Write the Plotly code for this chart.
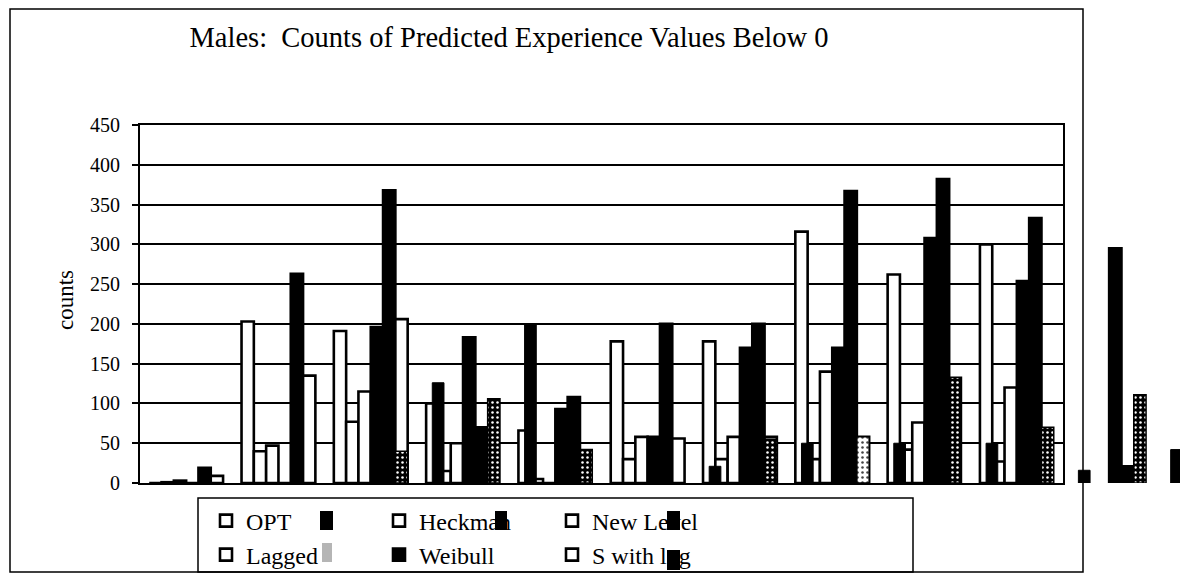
import plotly.graph_objects as go

W, H = 1188, 575
OFF = 8  # the page body margin shifts the figure by 8 px

# ---------------- data ----------------
categories = [str(i) for i in range(1, 13)]
series_names = ["OPT", "Heckman", "New Level", "Lagged", "Weibull", "S with log"]
opt = [0, 203, 191, 100, 66, 178, 178, 316, 262, 300, None, None]
heckman = [1, 40, 77, 15, 5, 30, 30, 30, 42, 27, None, None]
new_level = [3, 47, 115, 50, 0, 58, 58, 140, 76, 120, None, None]
lagged = [0, 0, 196, 183, 93, 58, 170, 170, 308, 254, 295, None]
weibull = [19, 263, 368, 70, 108, 200, 200, 367, 382, 333, 21, None]
s_with_log = [9, 135, 206, 0, 0, 56, 58, 58, 0, 0, None, None]
unlabeled_solid = [0, 0, -4, 126, 199, 0, 21, 50, 50, 50, 16, 42]
unlabeled_dotted = [0, 0, 40, 106, 42, 0, 55, 58, 133, 70, 111, None]
y_ticks = [0, 50, 100, 150, 200, 250, 300, 350, 400, 450]
title_text = "Males:\u00a0 Counts of Predicted Experience Values Below 0"
y_title = "counts"

# ---------------- styles ----------------
FONT = "Liberation Serif, Times New Roman, serif"
WHITE, BLACK = "white", "black"
main_values = [opt, heckman, new_level, lagged, weibull, s_with_log]
main_colors = [
    [WHITE] * 12,
    [WHITE] * 12,
    [WHITE] * 12,
    [WHITE] + [BLACK] * 11,
    [BLACK] * 12,
    [WHITE] * 12,
]
dotted_bg = [BLACK] * 7 + [WHITE] + [BLACK] * 4
dotted_fg = [WHITE] * 7 + [BLACK] + [WHITE] * 4

n_series = 6
slot = 1.0 / (n_series + 1.5)          # Excel-like gap width 150 %
start = -0.5 + 0.75 * slot


def px_x(p):
    return (p - OFF) / W


def px_y(p):
    return (H - (p - OFF)) / H


fig = go.Figure()

for ax, ay, show in (("x", "y", True), ("x2", "y2", False)):
    for j, (name, vals, cols) in enumerate(zip(series_names, main_values, main_colors)):
        fig.add_trace(go.Bar(
            x=categories, y=vals, name=name,
            xaxis=ax, yaxis=ay,
            offset=start + j * slot, width=slot,
            marker=dict(color=cols, line=dict(color=BLACK, width=2.6)),
            showlegend=show,
            legend="legend" if j < 3 else "legend2",
            legendrank=j,
            hoverinfo="skip",
        ))
    fig.add_trace(go.Bar(
        x=categories, y=unlabeled_solid, name="",
        xaxis=ax, yaxis=ay,
        offset=start + 0.5 * slot, width=slot * 0.95,
        marker=dict(color=BLACK, line=dict(color=BLACK, width=1)),
        showlegend=False, hoverinfo="skip",
    ))
    fig.add_trace(go.Bar(
        x=categories, y=unlabeled_dotted, name="",
        xaxis=ax, yaxis=ay,
        offset=start + 5 * slot, width=slot,
        marker=dict(color=dotted_bg, line=dict(color=BLACK, width=1.5),
                    pattern=dict(shape=".", size=5, solidity=0.2, fillmode="overlay",
                                 fgcolor=dotted_fg, fgopacity=1)),
        showlegend=False, hoverinfo="skip",
    ))

x_dom = [px_x(140), px_x(1063)]
y_dom = [px_y(483), px_y(125)]
units_px = (1063 - 140) / 10.0

legend_common = dict(orientation="h", xanchor="left", yanchor="middle",
                     entrywidth=128, entrywidthmode="pixels",
                     bgcolor="rgba(0,0,0,0)", borderwidth=0,
                     font=dict(family=FONT, size=24, color="black"),
                     itemclick=False, itemdoubleclick=False)

fig.update_layout(
    width=W, height=H, autosize=False,
    margin=dict(l=0, r=0, t=0, b=0, pad=0, autoexpand=False),
    paper_bgcolor="white", plot_bgcolor="white",
    barmode="overlay",
    font=dict(family=FONT, color="black"),
    title=dict(text=title_text, x=px_x(509), xanchor="center",
               y=px_y(37), yanchor="middle",
               font=dict(family=FONT, size=28.5, color="black")),
    xaxis=dict(domain=x_dom, type="category", categoryorder="array",
               categoryarray=categories, range=[-0.5, 9.5],
               showticklabels=False, ticks="", showgrid=False,
               showline=True, linecolor=BLACK, linewidth=2, mirror=True,
               anchor="y"),
    yaxis=dict(domain=y_dom, range=[0, 450], tickvals=y_ticks,
               ticks="outside", ticklen=6, tickcolor=BLACK, tickwidth=1.5,
               ticklabelstandoff=8,
               tickfont=dict(family=FONT, size=20, color="black"),
               showgrid=True, gridcolor=BLACK, gridwidth=1.5,
               showline=True, linecolor=BLACK, linewidth=2, mirror=True,
               zeroline=False, anchor="x"),
    xaxis2=dict(domain=[px_x(1063), px_x(1188)], type="category", categoryorder="array",
                categoryarray=categories,
                range=[9.5, 9.5 + (1188 - 1063) / units_px],
                visible=False, anchor="y2"),
    yaxis2=dict(domain=y_dom, range=[0, 450], visible=False, anchor="x2"),
    legend=dict(x=px_x(206), y=px_y(521), **legend_common),
    legend2=dict(x=px_x(206), y=px_y(555), **legend_common),
    showlegend=True,
)

fig.add_annotation(text=y_title, xref="paper", yref="paper",
                   x=px_x(65), y=px_y(300), xanchor="center", yanchor="middle",
                   textangle=-90, showarrow=False,
                   font=dict(family=FONT, size=23, color="black"))

shapes = [
    # outer chart frame
    dict(type="rect", xref="paper", yref="paper",
         x0=px_x(10), x1=px_x(1083), y0=px_y(572), y1=px_y(9),
         line=dict(color=BLACK, width=1.5), fillcolor="rgba(0,0,0,0)", layer="below"),
    # legend frame
    dict(type="rect", xref="paper", yref="paper",
         x0=px_x(198), x1=px_x(913), y0=px_y(572), y1=px_y(498),
         line=dict(color=BLACK, width=1.5), fillcolor="rgba(0,0,0,0)", layer="below"),
]
# stray legend keys of the unlabeled series
for (a, b, c, d, col) in [(320, 333, 511, 530, BLACK), (495, 507, 511, 530, BLACK),
                          (667, 680, 511, 530, BLACK), (667, 680, 550, 570, BLACK),
                          (322, 332, 543, 562, "#b5b5b5")]:
    shapes.append(dict(type="rect", xref="paper", yref="paper",
                       x0=px_x(a), x1=px_x(b), y0=px_y(d), y1=px_y(c),
                       line=dict(width=0), fillcolor=col, layer="above"))
fig.update_layout(shapes=shapes)

fig.write_html("out.html")
